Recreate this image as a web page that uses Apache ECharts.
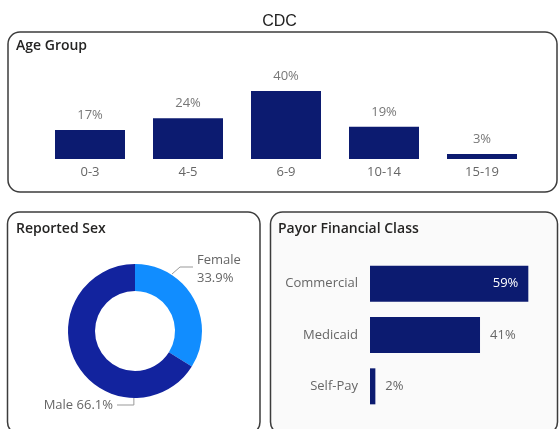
<!DOCTYPE html>
<html><head><meta charset="utf-8">
<script src="https://cdn.jsdelivr.net/npm/echarts@6/dist/echarts.min.js"></script>
<style>html,body{margin:0;padding:0;background:#fff}#c{width:559px;height:429px}</style>
</head><body><div id="c"></div>
<script>
// ---- data ----
const ageCategories = ['0-3', '4-5', '6-9', '10-14', '15-19'];
const ageValues = [17, 24, 40, 19, 3];
const sexNames = ['Female', 'Male'];
const sexValues = [33.9, 66.1];
const payorCategories = ['Commercial', 'Medicaid', 'Self-Pay'];
const payorValues = [59, 41, 2];

// ---- layout ----
const FONT = "'Segoe UI','Open Sans','Noto Sans',sans-serif";
const BAR = '#0c1b70';
const PIE_CX = 135, PIE_CY = 331, R_OUT = 67, R_IN = 40;
function arcPt(deg, r) {
  const a = deg * Math.PI / 180;
  return [PIE_CX + r * Math.cos(a), PIE_CY - r * Math.sin(a)];
}

const chart = echarts.init(document.getElementById('c'), null, {renderer: 'canvas'});
const panelStyle = {stroke: '#3c3c3c', lineWidth: 1.5};
chart.setOption({
  animation: false,
  title: {text: 'CDC', left: 'center', top: 9,
    textStyle: {fontFamily: "'Liberation Sans',Arial,sans-serif", fontSize: 16, fontWeight: 'normal', color: '#222'}},
  graphic: [
    {type: 'rect', z: -10, shape: {x: 8, y: 32, width: 549, height: 160, r: 12}, style: Object.assign({fill: '#fff'}, panelStyle)},
    {type: 'rect', z: -10, shape: {x: 7.5, y: 212, width: 252.5, height: 222, r: 12}, style: Object.assign({fill: '#fff'}, panelStyle)},
    {type: 'rect', z: -10, shape: {x: 270.5, y: 212, width: 287, height: 222, r: 12}, style: Object.assign({fill: '#fafafa'}, panelStyle)},
    {type: 'text', z: 10, left: 16, top: 39, style: {text: 'Age Group', font: "600 14px " + FONT, fill: '#252423'}},
    {type: 'text', z: 10, left: 16, top: 222, style: {text: 'Reported Sex', font: "600 14px " + FONT, fill: '#252423'}},
    {type: 'text', z: 10, left: 278, top: 222, style: {text: 'Payor Financial Class', font: "600 14px " + FONT, fill: '#252423'}}
  ],
  grid: [
    {left: 41, width: 490, top: 91, height: 68},
    {left: 370, width: 161, top: 258, height: 154}
  ],
  xAxis: [
    {gridIndex: 0, type: 'category', data: ageCategories,
      axisLine: {show: false}, axisTick: {show: false},
      axisLabel: {color: '#666', fontSize: 13, fontFamily: FONT, margin: 7}},
    {gridIndex: 1, type: 'value', min: 0, max: 60, show: false}
  ],
  yAxis: [
    {gridIndex: 0, type: 'value', min: 0, max: 40, show: false},
    {gridIndex: 1, type: 'category', data: payorCategories, inverse: true,
      axisLine: {show: false}, axisTick: {show: false},
      axisLabel: {color: '#666', fontSize: 13, fontFamily: FONT, margin: 12}}
  ],
  series: [
    {type: 'bar', xAxisIndex: 0, yAxisIndex: 0, data: ageValues, barWidth: 70,
      itemStyle: {color: BAR},
      label: {show: true, position: 'top', distance: 8, formatter: '{c}%',
        color: '#777', fontSize: 13, fontFamily: FONT}},
    {type: 'bar', xAxisIndex: 1, yAxisIndex: 1, barWidth: 36,
      itemStyle: {color: BAR},
      data: payorValues.map((v, i) => i === 0
        ? {value: v, label: {position: 'insideRight', color: '#fff', distance: 10}}
        : {value: v}),
      label: {show: true, position: 'right', distance: 10, formatter: '{c}%',
        color: '#666', fontSize: 13, fontFamily: FONT}},
    {type: 'pie', center: [PIE_CX, PIE_CY], radius: [R_IN, R_OUT], startAngle: 90, clockwise: true,
      data: sexNames.map((n, i) => ({name: n, value: sexValues[i],
        itemStyle: {color: i === 0 ? '#118dff' : '#12239e'}})),
      label: {show: true, color: '#666', fontSize: 13, fontFamily: FONT, lineHeight: 18, overflow: 'none',
        formatter: p => p.dataIndex === 0 ? p.name + '\n' + p.value.toFixed(1) + '%' : p.name + ' ' + p.value.toFixed(1) + '%'},
      labelLine: {show: true, lineStyle: {color: '#999', width: 1}},
      labelLayout: p => {
        if (p.dataIndex === 0) {
          const s = arcPt(57, R_OUT + 1);
          return {x: 197, y: 269, align: 'left', verticalAlign: 'middle', width: 80,
            labelLinePoints: [s, [180, 267], [193, 267]]};
        }
        const s = arcPt(-91, R_OUT - 2);
        return {x: 113, y: 405, align: 'right', verticalAlign: 'middle', width: 100,
          labelLinePoints: [s, [s[0], 405], [117, 405]]};
      }}
  ]
});
</script></body></html>
